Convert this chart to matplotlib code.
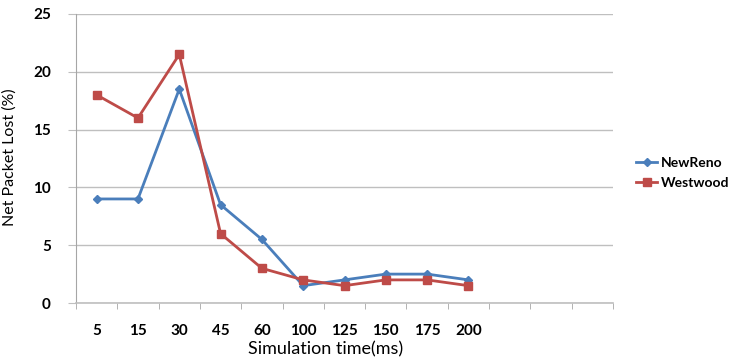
import numpy as np
import matplotlib
matplotlib.use("Agg")
import matplotlib.pyplot as plt
from matplotlib.ticker import FixedLocator

plt.rcParams["font.family"] = ["Lato", "DejaVu Sans"]

# data
sim_time = ["5", "15", "30", "45", "60", "100", "125", "150", "175", "200"]
n_slots = 13  # axis has a few empty categories on the right
newreno = [9, 9, 18.5, 8.5, 5.5, 1.5, 2, 2.5, 2.5, 2]
westwood = [18, 16, 21.5, 6, 3, 2, 1.5, 2, 2, 1.5]

blue = "#4A7EBB"
red = "#BE4B48"
grid_col = "#BFBFBF"

fig = plt.figure(figsize=(7.4, 3.58), dpi=100)
ax = fig.add_axes([0.1027, 0.1536, 0.7257, 0.8074])

x = np.arange(len(sim_time))
ax.plot(x, newreno, color=blue, lw=2, marker="D", ms=4.5, label="NewReno")
ax.plot(x, westwood, color=red, lw=2, marker="s", ms=6, label="Westwood")

# -------------------------
# axes styling (excel look)
# -------------------------
ax.set_xlim(-0.5, n_slots - 0.5)
ax.set_ylim(0, 25)
ax.set_yticks(np.arange(0, 26, 5))
ax.set_xticks(x)
ax.set_xticklabels(sim_time)
ax.xaxis.set_minor_locator(FixedLocator(np.arange(-0.5, n_slots, 1)))

ax.grid(axis="y", color=grid_col, lw=1)
ax.set_axisbelow(True)
for s in ["top", "right"]:
    ax.spines[s].set_visible(False)
ax.spines["left"].set_color("#A6A6A6")
ax.spines["bottom"].set_color(grid_col)
ax.spines["bottom"].set_linewidth(1.2)

ax.tick_params(axis="y", length=6, color=grid_col, pad=12,
               labelsize=11)
ax.tick_params(axis="x", which="major", length=0, pad=15, labelsize=11)
ax.tick_params(axis="x", which="minor", length=4, color="#A6A6A6")
for lbl in ax.get_xticklabels() + ax.get_yticklabels():
    lbl.set_fontweight("bold")

fig.text(0.003, 0.56, "Net Packet Lost (%)", rotation=90,
         ha="left", va="center", fontsize=11.5)
fig.text(0.44, 0.002, "Simulation time(ms)", ha="center",
         va="bottom", fontsize=13)

leg = ax.legend(loc="center left", bbox_to_anchor=(1.02, 0.45),
                frameon=False, handlelength=1.5,
                handletextpad=0.25, labelspacing=0.55,
                prop={"weight": "bold", "size": 10})

fig.savefig("out.png", dpi=100)
